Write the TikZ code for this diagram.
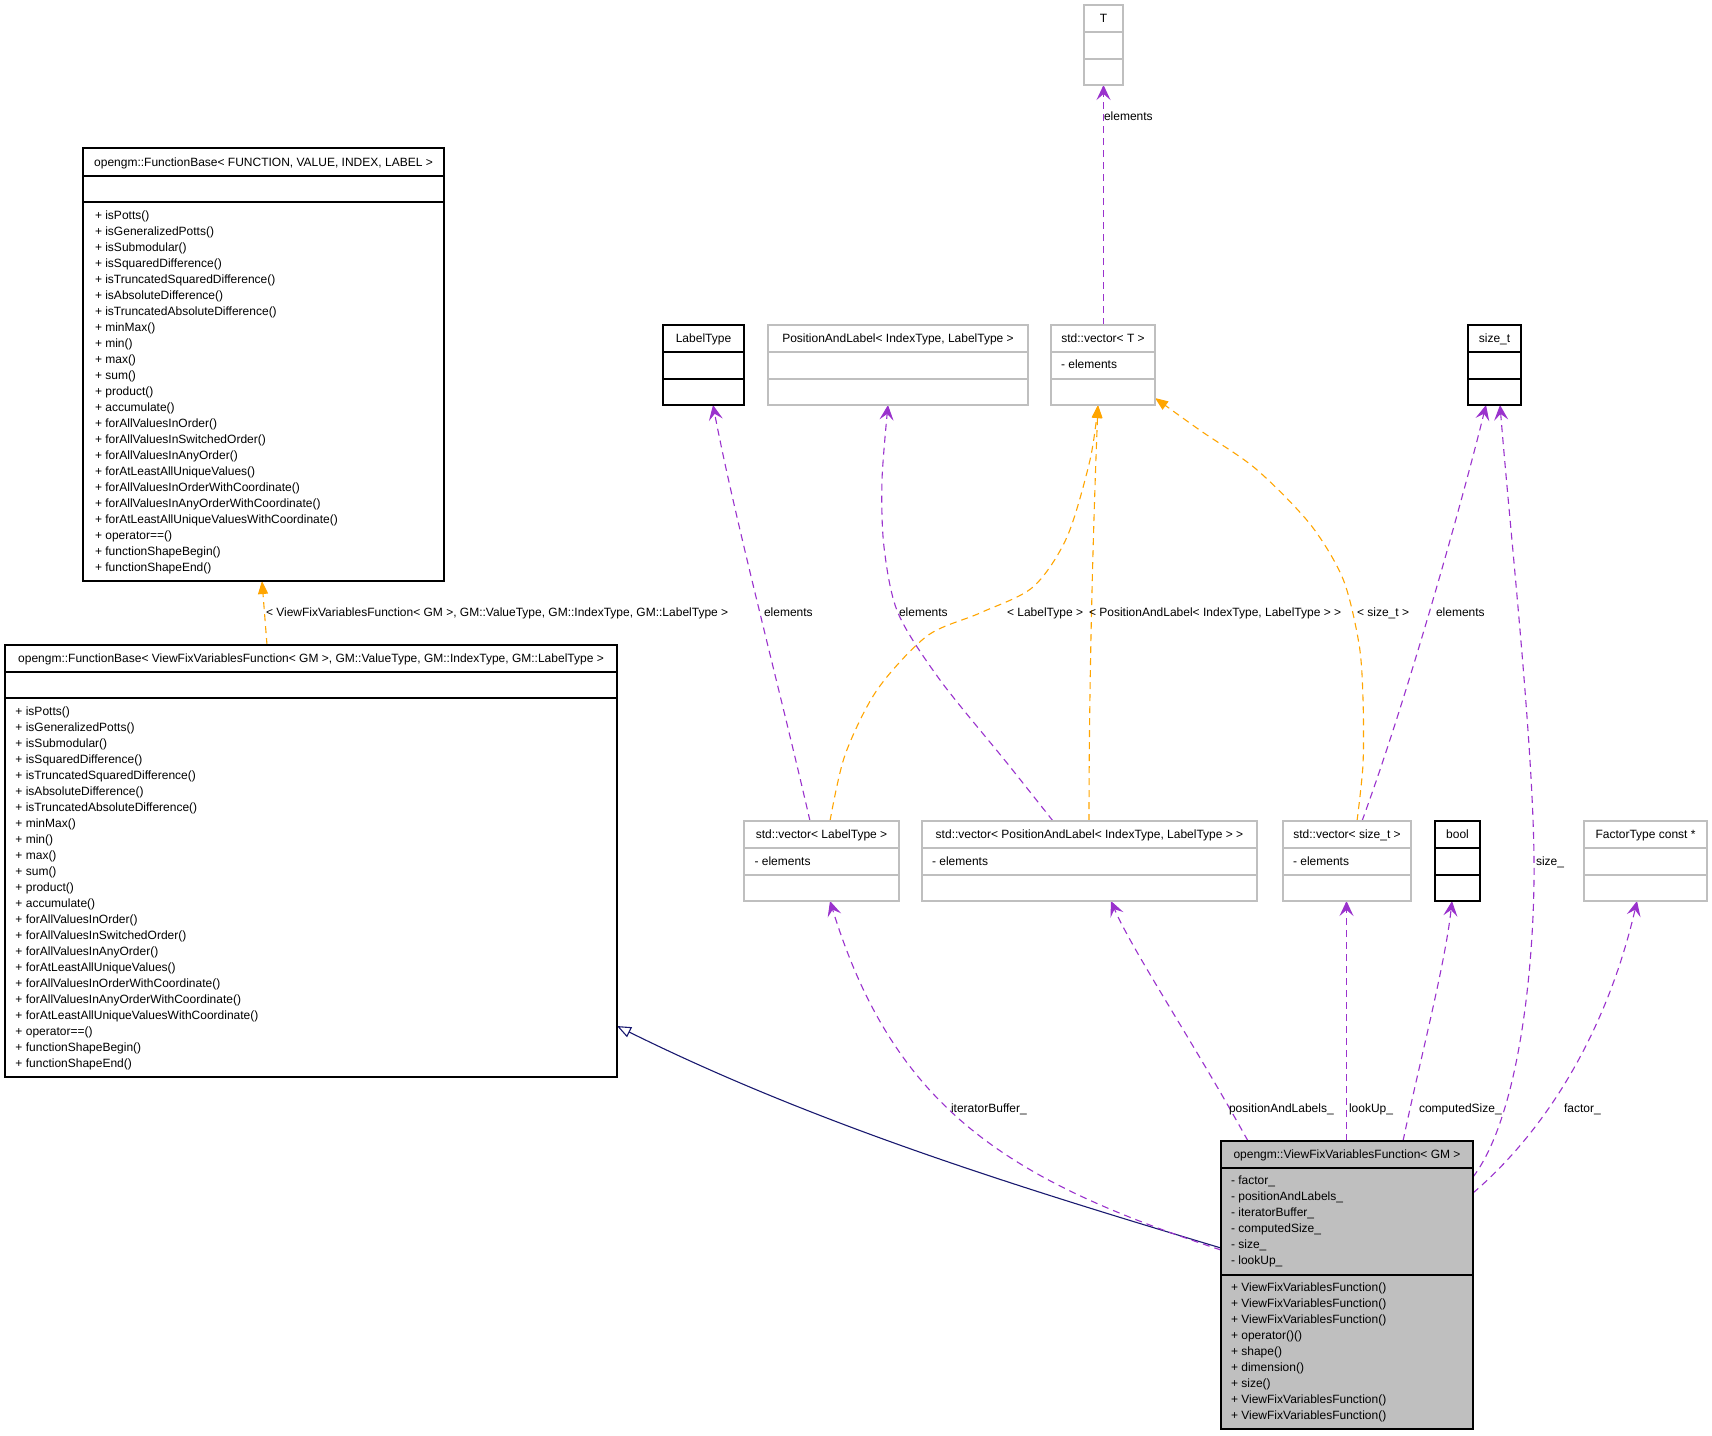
\documentclass[tikz,border=0pt]{standalone}
\usepackage{fontspec}
\setmainfont{Liberation Sans}
\usetikzlibrary{arrows.meta,calc}
\definecolor{edgepurple}{HTML}{9A32CD}
\definecolor{edgeorange}{HTML}{FFA500}
\definecolor{edgenavy}{HTML}{191970}
\definecolor{boxgray}{HTML}{BFBFBF}
\newcommand{\fbmembers}{+ isPotts(), + isGeneralizedPotts(), + isSubmodular(), + isSquaredDifference(), + isTruncatedSquaredDifference(), + isAbsoluteDifference(), + isTruncatedAbsoluteDifference(), + minMax(), + min(), + max(), + sum(), + product(), + accumulate(), + forAllValuesInOrder(), + forAllValuesInSwitchedOrder(), + forAllValuesInAnyOrder(), + forAtLeastAllUniqueValues(), + forAllValuesInOrderWithCoordinate(), + forAllValuesInAnyOrderWithCoordinate(), + forAtLeastAllUniqueValuesWithCoordinate(), + operator==(), + functionShapeBegin(), + functionShapeEnd()}
\begin{document}
\begin{tikzpicture}[x=1pt,y=-1pt,
  txt/.style={font=\fontsize{12}{14}\selectfont, inner sep=0pt, outer sep=0pt},
  lbl/.style={txt, anchor=base west},
  hdr/.style={txt, anchor=base},
  mem/.style={txt, anchor=base west},
  bx/.style={draw, line width=1.3pt, fill=white, inner sep=0pt, outer sep=0pt, anchor=north west},
  kbox/.style={bx, draw=black},
  gbox/.style={bx, draw=boxgray},
  ksep/.style={draw=black, line width=1.3pt},
  gsep/.style={draw=boxgray, line width=1.3pt},
  useedge/.style={draw=edgepurple, line width=1.1pt, dash pattern=on 7pt off 5pt, -{Stealth[length=15pt,width=14pt,inset=6pt]}},
  tmpledge/.style={draw=edgeorange, line width=1.1pt, dash pattern=on 7pt off 5pt, -{Triangle[length=13pt,width=10pt]}},
  inhedge/.style={draw=edgenavy, line width=1.1pt, -{Triangle[open,length=14pt,width=11pt,fill=white]}},
]
\fill[white] (0,0) rectangle (1712,1435);
\useasboundingbox (0,0) rectangle (1712,1435);

% ---------- boxes (shapes only, drawn first so anchors exist) ----------
\node[kbox, minimum width=361pt, minimum height=433pt] (A) at (83,148) {};
\node[kbox, minimum width=612pt, minimum height=432pt] (B) at (5,645) {};
\node[gbox, minimum width=39pt, minimum height=80pt] (T) at (1084,5) {};
\node[kbox, minimum width=81pt, minimum height=80pt] (C) at (663,325) {};
\node[gbox, minimum width=260pt, minimum height=80pt] (D) at (768,325) {};
\node[gbox, minimum width=104pt, minimum height=80pt] (E) at (1051,325) {};
\node[kbox, minimum width=53pt, minimum height=80pt] (S) at (1468,325) {};
\node[gbox, minimum width=155pt, minimum height=80pt] (F) at (744,821) {};
\node[gbox, minimum width=335pt, minimum height=80pt] (G) at (922,821) {};
\node[gbox, minimum width=128pt, minimum height=80pt] (H) at (1283,821) {};
\node[kbox, minimum width=45pt, minimum height=80pt] (Bo) at (1435,821) {};
\node[gbox, minimum width=123pt, minimum height=80pt] (FT) at (1584,821) {};
\node[kbox, fill=boxgray, minimum width=252pt, minimum height=288pt] (M) at (1221,1141) {};

% ---------- connectors ----------
\draw[tmpledge] ($(B.north west)+(262,0)$) -- ($(A.south west)+(179,0)$);
\draw[inhedge] ($(M.north west)+(0,107)$) .. controls (1021,1188) and (817,1125) .. ($(B.north east)+(0,381)$);
\draw[useedge] ($(M.north west)+(0,109)$) .. controls (1012,1181) and (895,1112) .. ($(F.south west)+(86,0)$);
\draw[useedge] ($(M.north west)+(27,0)$) .. controls (1195,1045) and (1132,950) .. ($(G.south west)+(189,0)$);
\draw[useedge] ($(M.north west)+(125.5,0)$) -- ($(H.south west)+(63.5,0)$);
\draw[useedge] ($(M.north west)+(182,0)$) .. controls (1420,1060) and (1445,965) .. ($(Bo.south west)+(17,0)$);
\coordinate (szmid) at (1534,860);
\draw[useedge] ($(M.north east)+(0,36)$) .. controls (1520,1115) and (1535,960) .. (szmid) .. controls (1533,740) and (1510,530) .. ($(S.south west)+(32,0)$);
\draw[useedge] ($(M.north east)+(0,52)$) .. controls (1560,1118) and (1612,1010) .. ($(FT.south west)+(53,0)$);

\draw[useedge] ($(F.north west)+(66,0)$) .. controls (780,690) and (735,520) .. ($(C.south west)+(50,0)$);
\coordinate (fe0) at ($(F.north west)+(86,0)$);
\coordinate (fe1) at ($(E.south west)+(47,0)$);
\draw[tmpledge] plot[smooth] coordinates {(fe0) (845,755) (877,690) (927,636) (980,613) (1033,587) (1067,537) (1090,460) (fe1)};
\coordinate (gd0) at ($(G.north west)+(131,0)$);
\coordinate (gd1) at ($(D.south west)+(120,0)$);
\draw[useedge] plot[smooth] coordinates {(gd0) (1007,763) (940,680) (898,613) (884,547) (882,480) (gd1)};
\draw[tmpledge] ($(G.north west)+(167,0)$) .. controls (1089,650) and (1095,480) .. ($(E.south west)+(47,0)$);
\coordinate (he0) at ($(H.north west)+(74,0)$);
\coordinate (he1) at ($(E.south east)+(0,-7)$);
\draw[tmpledge] plot[smooth] coordinates {(he0) (1363,764) (1363,699) (1359,644) (1343,579) (1310,524) (1256,469) (1201,431) (he1)};
\draw[useedge] ($(H.north west)+(79,0)$) .. controls (1410,690) and (1465,490) .. ($(S.south west)+(18,0)$);
\draw[useedge] ($(E.north west)+(52.5,0)$) -- ($(T.south west)+(19.5,0)$);

% ---------- redraw boxes on top ----------
\node[kbox, minimum width=361pt, minimum height=433pt] at (83,148) {};
\node[kbox, minimum width=612pt, minimum height=432pt] at (5,645) {};
\node[gbox, minimum width=39pt, minimum height=80pt] at (1084,5) {};
\node[kbox, minimum width=81pt, minimum height=80pt] at (663,325) {};
\node[gbox, minimum width=260pt, minimum height=80pt] at (768,325) {};
\node[gbox, minimum width=104pt, minimum height=80pt] at (1051,325) {};
\node[kbox, minimum width=53pt, minimum height=80pt] at (1468,325) {};
\node[gbox, minimum width=155pt, minimum height=80pt] at (744,821) {};
\node[gbox, minimum width=335pt, minimum height=80pt] at (922,821) {};
\node[gbox, minimum width=128pt, minimum height=80pt] at (1283,821) {};
\node[kbox, minimum width=45pt, minimum height=80pt] at (1435,821) {};
\node[gbox, minimum width=123pt, minimum height=80pt] at (1584,821) {};
\node[kbox, fill=boxgray, minimum width=252pt, minimum height=288pt] at (1221,1141) {};

% separators
\draw[ksep] (83,176) -- (444,176); \draw[ksep] (83,202) -- (444,202);
\draw[ksep] (5,672) -- (617,672); \draw[ksep] (5,698) -- (617,698);
\draw[gsep] (1084,32) -- (1123,32); \draw[gsep] (1084,59) -- (1123,59);
\draw[ksep] (663,352) -- (744,352); \draw[ksep] (663,379) -- (744,379);
\draw[gsep] (768,352) -- (1028,352); \draw[gsep] (768,379) -- (1028,379);
\draw[gsep] (1051,352) -- (1155,352); \draw[gsep] (1051,379) -- (1155,379);
\draw[ksep] (1468,352) -- (1521,352); \draw[ksep] (1468,379) -- (1521,379);
\draw[gsep] (744,848) -- (899,848); \draw[gsep] (744,875) -- (899,875);
\draw[gsep] (922,848) -- (1257,848); \draw[gsep] (922,875) -- (1257,875);
\draw[gsep] (1283,848) -- (1411,848); \draw[gsep] (1283,875) -- (1411,875);
\draw[ksep] (1435,848) -- (1480,848); \draw[ksep] (1435,875) -- (1480,875);
\draw[gsep] (1584,848) -- (1707,848); \draw[gsep] (1584,875) -- (1707,875);
\draw[ksep] (1221,1168) -- (1473,1168); \draw[ksep] (1221,1275) -- (1473,1275);

% headers
\node[hdr] (Ah) at (263.5,166) {opengm::FunctionBase< FUNCTION, VALUE, INDEX, LABEL >};
\node[hdr] (Bh) at (311,662.5) {opengm::FunctionBase< ViewFixVariablesFunction< GM >, GM::ValueType, GM::IndexType, GM::LabelType >};
\node[hdr] (Th) at (1103.5,22.5) {T};
\node[hdr] (Ch) at (703.5,342.5) {LabelType};
\node[hdr] (Dh) at (898,342.5) {PositionAndLabel< IndexType, LabelType >};
\node[hdr] (Eh) at (1103,342.5) {std::vector< T >};
\node[hdr] (Sh) at (1494.5,342.5) {size\_t};
\node[hdr] (Fh) at (821.5,838.5) {std::vector< LabelType >};
\node[hdr] (Gh) at (1089.5,838.5) {std::vector< PositionAndLabel< IndexType, LabelType > >};
\node[hdr] (Hh) at (1347,838.5) {std::vector< size\_t >};
\node[hdr] (Boh) at (1457.5,838.5) {bool};
\node[hdr] (FTh) at (1645.5,838.5) {FactorType const *};
\node[hdr] (Mh) at (1347,1158.5) {opengm::ViewFixVariablesFunction< GM >};

% members
\node[mem] (Em) at (1061,368.5) {- elements};
\node[mem] (Fm) at (754.5,865) {- elements};
\node[mem] (Gm) at (932,865) {- elements};
\node[mem] (Hm) at (1293,865) {- elements};
\foreach \t [count=\i from 0] in \fbmembers { \node[mem] (Am\i) at (95,219+16*\i) {\t}; }
\foreach \t [count=\i from 0] in \fbmembers { \node[mem] (Bm\i) at (15.5,715+16*\i) {\t}; }
\foreach \t [count=\i from 0] in {- factor\_, - positionAndLabels\_, - iteratorBuffer\_, - computedSize\_, - size\_, - lookUp\_}
  { \node[mem] (Ma\i) at (1231,1184+16*\i) {\t}; }
\foreach \t [count=\i from 0] in {+ ViewFixVariablesFunction(), + ViewFixVariablesFunction(), + ViewFixVariablesFunction(), + operator()(), + shape(), + dimension(), + size(), + ViewFixVariablesFunction(), + ViewFixVariablesFunction()}
  { \node[mem] (Mo\i) at (1231,1291+16*\i) {\t}; }

% edge labels
\node[lbl] (l1) at (266,616) {< ViewFixVariablesFunction< GM >, GM::ValueType, GM::IndexType, GM::LabelType >};
\node[lbl] (l2) at (764,616) {elements};
\node[lbl] (l3) at (899,616) {elements};
\node[lbl] (l4) at (1007,616) {< LabelType >};
\node[lbl] (l5) at (1089,616) {< PositionAndLabel< IndexType, LabelType > >};
\node[lbl] (l6) at (1357,616) {< size\_t >};
\node[lbl] (l7) at (1436,616) {elements};
\node[lbl] (l8) at (1104,120) {elements};
\node[lbl] (l9) at (1536,865) {size\_};
\node[lbl] (l10) at (951,1112) {iteratorBuffer\_};
\node[lbl] (l11) at (1229,1112) {positionAndLabels\_};
\node[lbl] (l12) at (1349,1112) {lookUp\_};
\node[lbl] (l13) at (1419,1112) {computedSize\_};
\node[lbl] (l14) at (1564,1112) {factor\_};
\end{tikzpicture}
\end{document}
